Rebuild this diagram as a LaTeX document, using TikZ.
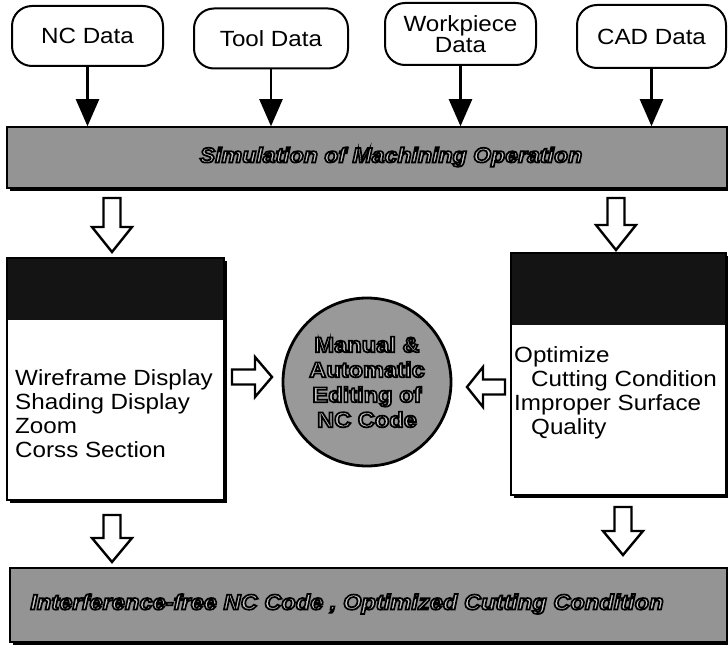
\documentclass[tikz,border=0pt]{standalone}
\usepackage{fontspec}
\setmainfont{Liberation Sans}[FakeStretch=1.1]
\usetikzlibrary{arrows.meta,shadows,calc}

\newcommand\outl[1]{\special{pdf:literal direct 0 G 2 Tr 1.7 w}#1\special{pdf:literal direct 0 Tr}}
\newcommand\blockarrow[6]{%
  \begin{scope}[shift={(#1)},rotate=#2]
    \draw[hollow] (0,-#5) -- ({#3-#4},-#5) -- ({#3-#4},-#6) -- (#3,0)
      -- ({#3-#4},#6) -- ({#3-#4},#5) -- (0,#5) -- cycle;
  \end{scope}}

\begin{document}
\begin{tikzpicture}[x=1pt,y=-1pt,
  data/.style={draw, line width=2pt, rounded corners=20pt, minimum width=151pt,
    minimum height=60pt, align=center, font=\fontsize{22}{21}\selectfont, inner sep=2pt},
  flow/.style={line width=2.2pt, -{Triangle[length=27pt,width=23pt]}},
  bar/.style={draw, line width=1.5pt, fill=black!42,
    drop shadow={shadow xshift=3pt, shadow yshift=-3pt, fill=black, opacity=1}},
  panel/.style={draw, line width=2pt, fill=white,
    drop shadow={shadow xshift=3pt, shadow yshift=-3pt, fill=black, opacity=1}},
  hdr/.style={fill=black!92},
  body/.style={font=\fontsize{22}{24}\selectfont, align=left, anchor=west, inner sep=0pt},
  bartext/.style={font=\fontsize{21}{24}\selectfont\bfseries\itshape, text=black!22, inner sep=0pt},
  hub/.style={circle, draw, line width=2.8pt, fill=black!40, minimum size=168pt, align=center,
    font=\fontsize{21.5}{25}\selectfont\bfseries, text=black!22, inner sep=0pt},
  hollow/.style={draw, line width=2.4pt, fill=white, line join=miter},
]
\useasboundingbox (0,0) rectangle (728,647);

% input data
\node[data] (nc) at (87.5,36) {NC Data};
\node[data, minimum width=154pt] (tool) at (271,38.5) {Tool Data};
\node[data, minimum height=62pt] (work) at (460.5,34) {Workpiece\\Data};
\node[data, minimum width=149pt, minimum height=63pt] (cad) at (651.5,36.5) {CAD Data};

% simulation bar
\node[bar, minimum width=720pt, minimum height=61pt] (sim) at (367,157.5) {};
\node[bartext] (simt) at (391,157) {\outl{Simulation of Machining Operation}};

\draw[flow] (nc.south) -- (nc.south |- sim.north);
\draw[flow] (tool.south) -- (tool.south |- sim.north);
\draw[flow] (work.south) -- (work.south |- sim.north);
\draw[flow] (cad.south) -- (cad.south |- sim.north);

% left panel
\node[panel, minimum width=217pt, minimum height=242pt,
  path picture={\fill[hdr] (path picture bounding box.north west) rectangle
     ([yshift=-62pt]path picture bounding box.north east);}] (lbox) at (115.5,379) {};
\node[body] (ltext) at (15,414) {Wireframe Display\\Shading Display\\Zoom\\Corss Section};

% right panel
\node[panel, minimum width=215pt, minimum height=242pt,
  path picture={\fill[hdr] (path picture bounding box.north west) rectangle
     ([yshift=-72pt]path picture bounding box.north east);}] (rbox) at (618.5,374) {};
\node[body] (rtext) at (514,393) {Optimize\\\hspace*{17pt}Cutting Condition\\Improper Surface\\\hspace*{17pt}Quality};

% hub
\node[hub] (hub) at (367,382) {\outl{Manual \&\\Automatic\\Editing of\\NC Code}};

% result bar
\node[bar, minimum width=717pt, minimum height=74pt] (res) at (368.5,605) {};
\node[bartext, font=\fontsize{21.5}{24}\selectfont\bfseries\itshape] (rest) at (347,604)
  {\outl{Interference-free NC Code , Optimized Cutting Condition}};

% block arrows
\coordinate (a1) at (112,198);
\coordinate (a2) at (616,198);
\coordinate (a3) at (232,377);
\coordinate (a4) at (505,387);
\coordinate (a5) at (112,515);
\coordinate (a6) at (623,507);
\blockarrow{a1}{-90}{54}{25}{8.5}{20}
\blockarrow{a2}{-90}{52}{25}{8.5}{20}
\blockarrow{a3}{0}{40}{17}{7.5}{20}
\blockarrow{a4}{180}{38}{16}{7.5}{20}
\blockarrow{a5}{-90}{47}{24}{8.5}{20}
\blockarrow{a6}{-90}{48}{24}{8.5}{20}
\end{tikzpicture}
\end{document}
